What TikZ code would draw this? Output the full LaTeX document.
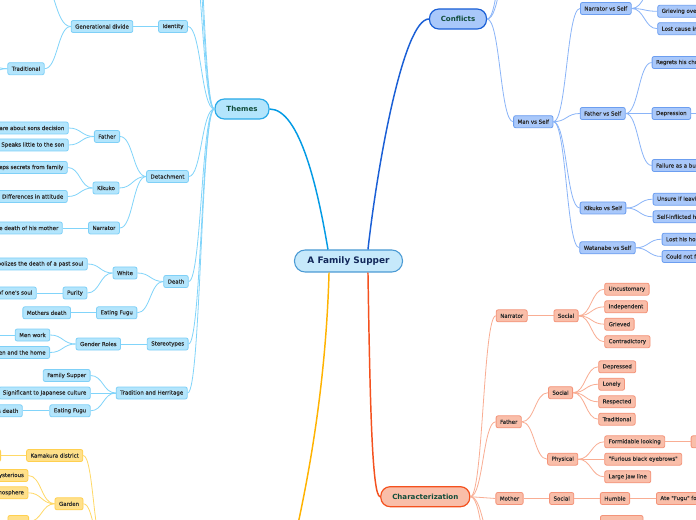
\documentclass[tikz,border=0pt]{standalone}
\usepackage{fontspec}
\setmainfont{DejaVu Sans}
\newfontfamily\nodefont{DejaVu Sans}[FakeBold=0.6]
\usetikzlibrary{calc}
\definecolor{thfill}{HTML}{B3E5FC}
\definecolor{thborder}{HTML}{7FD0F7}
\definecolor{thedge}{HTML}{81D4FA}
\definecolor{thmain}{HTML}{039BE5}
\definecolor{thmainb}{HTML}{2AAAE8}
\definecolor{cofill}{HTML}{A9C8FA}
\definecolor{coborder}{HTML}{6C9EF0}
\definecolor{coedge}{HTML}{8AB4F8}
\definecolor{comain}{HTML}{1A5FD6}
\definecolor{chfill}{HTML}{F9BEA9}
\definecolor{chborder}{HTML}{F4947A}
\definecolor{chedge}{HTML}{F9AD93}
\definecolor{chmain}{HTML}{F4511E}
\definecolor{yefill}{HTML}{FFE08A}
\definecolor{yeborder}{HTML}{FFD04F}
\definecolor{yeedge}{HTML}{FFD966}
\definecolor{yemain}{HTML}{FFB300}
\definecolor{rootfill}{HTML}{C6E9FB}
\definecolor{rootborder}{HTML}{4A9AD4}
\definecolor{txt}{HTML}{2E2E2E}
\definecolor{maintxt}{HTML}{114D3A}
\definecolor{roottxt}{HTML}{12285A}
\tikzset{
  mm/.style={to path={.. controls ($(\tikztostart)!0.5!(\tikztotarget|-\tikztostart)$) and ($(\tikztotarget)!0.5!(\tikztostart|-\tikztotarget)$) .. (\tikztotarget) \tikztonodes}},
  box/.style={rounded corners=1.5pt, minimum height=9pt, inner xsep=3pt, inner ysep=0pt,
    font=\nodefont\fontsize{4.1}{4.5}\selectfont, text=txt, line width=0.6pt},
  th/.style={box, fill=thfill, draw=thborder},
  co/.style={box, fill=cofill, draw=coborder},
  ch/.style={box, fill=chfill, draw=chborder},
  ye/.style={box, fill=yefill, draw=yeborder},
  branch/.style={rounded corners=7pt, minimum height=15pt, inner sep=0pt,
    font=\bfseries\fontsize{5.3}{6}\selectfont, text=maintxt, line width=0.9pt},
  the/.style={draw=thedge, line width=0.6pt, mm},
  coe/.style={draw=coedge, line width=0.6pt, mm},
  che/.style={draw=chedge, line width=0.6pt, mm},
  yee/.style={draw=yeedge, line width=0.6pt, mm},
}
\begin{document}
\begin{tikzpicture}[x=0.75pt,y=-0.75pt]
\clip (0,0) rectangle (696,520);
\fill[white] (0,0) rectangle (696,520);
% root
\node[rounded corners=8pt, minimum width=81pt, minimum height=16.5pt, inner sep=0pt,
  fill=rootfill, draw=rootborder, line width=0.8pt, text=roottxt,
  font=\bfseries\fontsize{6.7}{8}\selectfont] (root) at (348.5,261) {A Family Supper};
% main branches
\node[branch, fill=thfill, draw=thmainb, minimum width=40.5pt] (themes) at (242,109) {Themes};
\node[branch, fill=cofill, draw=comain, minimum width=42.75pt] (conflicts) at (458,19) {Conflicts};
\node[branch, fill=chfill, draw=chmain, minimum width=66.75pt] (charac) at (425.3,496.7) {Characterization};
\coordinate (setting) at (285,580);
\draw[thmain, line width=1.1pt] ([xshift=-15.4pt]root.north) .. controls (318,190) and (300,109) .. (themes.east);
\draw[comain, line width=1.1pt] ([xshift=14.6pt]root.north) .. controls (378,160) and (404,19) .. (conflicts.west);
\draw[chmain, line width=1.1pt] ([xshift=14.6pt]root.south) .. controls (370,400) and (372,497) .. (charac.west);
\draw[yemain, line width=1.1pt] ([xshift=-14.6pt]root.south) .. controls (326,380) and (310,480) .. (setting);

% ---------------- Themes ----------------
\node[th] (identity) at (173,26.5) {Identity};
\node[th] (gendiv) at (102,26.5) {Generational divide};
\node[th] (traditional) at (26,68.7) {Traditional};
\coordinate (gdup) at (38,-25);
\coordinate (trad1) at (-25,60);
\coordinate (trad2) at (-25,80);
\coordinate (thup1) at (190,-60);
\coordinate (thup2) at (190,-110);
\coordinate (thup3) at (190,-160);
\node[th] (detach) at (167.5,176.5) {Detachment};
\node[th] (dfather) at (107,136.5) {Father};
\node[th, anchor=east] (dcare) at (68.7,128) {Doesn't care about sons decision};
\node[th, anchor=east] (dspeaks) at (68.7,145) {Speaks little to the son};
\node[th] (dkikuko) at (106,188) {Kikuko};
\node[th, anchor=east] (dsecrets) at (67.7,167.5) {Keeps secrets from family};
\node[th, anchor=east] (ddiff) at (67.7,196.5) {Differences in attitude};
\node[th] (dnarr) at (104,228) {Narrator};
\node[th, anchor=east] (dmother) at (62.7,228) {the death of his mother};
\node[th] (death) at (176,281.5) {Death};
\node[th] (white) at (125,273) {White};
\node[th, anchor=east] (wsymb) at (87.7,264) {Symbolizes the death of a past soul};
\node[th] (purity) at (75,293) {Purity};
\node[th, anchor=east] (psoul) at (36.7,293) {Purity of one's soul};
\node[th] (eatfugu1) at (116.7,312.8) {Eating Fugu};
\node[th] (mothdeath1) at (46.7,312.8) {Mothers death};
\node[th] (stereo) at (167.7,344) {Stereotypes};
\node[th] (gender) at (98.3,344) {Gender Roles};
\node[th] (menwork) at (32.5,335) {Men work};
\node[th, anchor=east] (women) at (50,352.5) {Women and the home};
\coordinate (mw1) at (-25,335);
\node[th] (tradher) at (151.7,393) {Tradition and Herritage};
\node[th] (famsup) at (66.7,375.5) {Family Supper};
\node[th, anchor=east] (signif) at (90.7,393) {Significant to Japanese culture};
\node[th] (eatfugu2) at (70,410.8) {Eating Fugu};
\node[th, anchor=east] (mothdeath2) at (22.7,410.8) {Mothers death};

\draw[the] (themes.west) to (identity.east);
\draw[the] (themes.west) to (thup1);
\draw[the] (themes.west) to (thup2);
\draw[the] (themes.west) to (thup3);
\draw[the] (themes.west) to (detach.east);
\draw[the] (themes.west) to (death.east);
\draw[the] (themes.west) to (stereo.east);
\draw[the] (themes.west) to (tradher.east);
\draw[the] (identity.west) to (gendiv.east);
\draw[the] (gendiv.west) to (gdup);
\draw[the] (gendiv.west) to (traditional.east);
\draw[the] (traditional.west) to (trad1);
\draw[the] (traditional.west) to (trad2);
\draw[the] (detach.west) to (dfather.east);
\draw[the] (detach.west) to (dkikuko.east);
\draw[the] (detach.west) to (dnarr.east);
\draw[the] (dfather.west) to (dcare.east);
\draw[the] (dfather.west) to (dspeaks.east);
\draw[the] (dkikuko.west) to (dsecrets.east);
\draw[the] (dkikuko.west) to (ddiff.east);
\draw[the] (dnarr.west) to (dmother.east);
\draw[the] (death.west) to (white.east);
\draw[the] (death.west) to (eatfugu1.east);
\draw[the] (white.west) to (wsymb.east);
\draw[the] (white.west) to (purity.east);
\draw[the] (purity.west) to (psoul.east);
\draw[the] (eatfugu1.west) to (mothdeath1.east);
\draw[the] (stereo.west) to (gender.east);
\draw[the] (gender.west) to (menwork.east);
\draw[the] (gender.west) to (women.east);
\draw[the] (menwork.west) to (mw1);
\draw[the] (tradher.west) to (famsup.east);
\draw[the] (tradher.west) to (signif.east);
\draw[the] (tradher.west) to (eatfugu2.east);
\draw[the] (eatfugu2.west) to (mothdeath2.east);

% ---------------- Conflicts ----------------
\coordinate (co1) at (512,-40);
\coordinate (co2) at (512,-80);
\node[co] (manself) at (533.3,121.7) {Man vs Self};
\node[co] (narrself) at (605.8,8.5) {Narrator vs Self};
\node[co, anchor=west] (grieving) at (657.3,11.3) {Grieving over his mother};
\node[co, anchor=west] (lostcause) at (657.3,28.7) {Lost cause in life};
\coordinate (nsup) at (657,-14);
\node[co] (fatherself) at (602.7,113.5) {Father vs Self};
\node[co, anchor=west] (regrets) at (651.7,62.5) {Regrets his choices};
\node[co, anchor=west] (depression) at (651.7,113.5) {Depression};
\coordinate (depchild) at (715,113.5);
\node[co, anchor=west] (failure) at (651.7,165.5) {Failure as a businessman};
\node[co] (kikself) at (603,208) {Kikuko vs Self};
\node[co, anchor=west] (unsure) at (652.7,199.2) {Unsure if leaving was right};
\node[co, anchor=west] (selfinf) at (652.7,216.8) {Self-inflicted harm};
\node[co] (watself) at (607.5,247.8) {Watanabe vs Self};
\node[co, anchor=west] (losthome) at (661.7,239.2) {Lost his home};
\node[co, anchor=west] (couldnot) at (661.7,256.5) {Could not face shame};

\draw[coe] (conflicts.east) to (co1);
\draw[coe] (conflicts.east) to (co2);
\draw[coe] (conflicts.east) to (manself.west);
\draw[coe] (manself.east) to (narrself.west);
\draw[coe] (manself.east) to (fatherself.west);
\draw[coe] (manself.east) to (kikself.west);
\draw[coe] (manself.east) to (watself.west);
\draw[coe] (narrself.east) to (nsup);
\draw[coe] (narrself.east) to (grieving.west);
\draw[coe] (narrself.east) to (lostcause.west);
\draw[coe] (fatherself.east) to (regrets.west);
\draw[coe] (fatherself.east) to (depression.west);
\draw[coe] (fatherself.east) to (failure.west);
\draw[coe] (depression.east) to (depchild);
\draw[coe] (kikself.east) to (unsure.west);
\draw[coe] (kikself.east) to (selfinf.west);
\draw[coe] (watself.east) to (losthome.west);
\draw[coe] (watself.east) to (couldnot.west);

% ---------------- Characterization ----------------
\node[ch] (cnarr) at (511.7,315.8) {Narrator};
\node[ch] (cnsocial) at (566,315.8) {Social};
\node[ch, anchor=west] (uncust) at (604.3,289.2) {Uncustomary};
\node[ch, anchor=west] (indep) at (604.3,306.8) {Independent};
\node[ch, anchor=west] (grieved) at (604.3,324.2) {Grieved};
\node[ch, anchor=west] (contra) at (604.3,341.7) {Contradictory};
\node[ch] (cfather) at (508.7,421.8) {Father};
\node[ch] (cfsocial) at (560.5,392.7) {Social};
\node[ch, anchor=west] (depressed) at (598.3,366.8) {Depressed};
\node[ch, anchor=west] (lonely) at (598.3,384.2) {Lonely};
\node[ch, anchor=west] (respected) at (598.3,401.8) {Respected};
\node[ch, anchor=west] (ctrad) at (598.3,419.2) {Traditional};
\node[ch] (physical) at (562.7,459.2) {Physical};
\node[ch, anchor=west] (formid) at (604.3,441.8) {Formidable looking};
\node[ch, anchor=west, minimum width=30pt] (formchild) at (690.7,441.8) {};
\node[ch, anchor=west] (furious) at (604.3,459.2) {"Furious black eyebrows"};
\node[ch, anchor=west] (largejaw) at (604.3,476.8) {Large jaw line};
\node[ch] (cmother) at (509.5,498.5) {Mother};
\node[ch] (cmsocial) at (561.7,498.5) {Social};
\node[ch] (humble) at (615,498.5) {Humble};
\node[ch, anchor=west] (atefugu) at (656,498.5) {Ate "Fugu" for her son};
\node[ch, anchor=west, minimum width=32pt] (cbottom) at (600,521.5) {};
\coordinate (chd1) at (496,545);
\coordinate (chd2) at (496,580);

\draw[che] (charac.east) to (cnarr.west);
\draw[che] (charac.east) to (cfather.west);
\draw[che] (charac.east) to (cmother.west);
\draw[che] (charac.east) to (chd1);
\draw[che] (charac.east) to (chd2);
\draw[che] (cnarr.east) to (cnsocial.west);
\draw[che] (cnsocial.east) to (uncust.west);
\draw[che] (cnsocial.east) to (indep.west);
\draw[che] (cnsocial.east) to (grieved.west);
\draw[che] (cnsocial.east) to (contra.west);
\draw[che] (cfather.east) to (cfsocial.west);
\draw[che] (cfather.east) to (physical.west);
\draw[che] (cfsocial.east) to (depressed.west);
\draw[che] (cfsocial.east) to (lonely.west);
\draw[che] (cfsocial.east) to (respected.west);
\draw[che] (cfsocial.east) to (ctrad.west);
\draw[che] (physical.east) to (formid.west);
\draw[che] (physical.east) to (furious.west);
\draw[che] (physical.east) to (largejaw.west);
\draw[che] (formid.east) to (formchild.west);
\draw[che] (cmother.east) to (cmsocial.west);
\draw[che] (cmsocial.east) to (humble.west);
\draw[che] (humble.east) to (atefugu.west);

% ---------------- Setting (yellow) ----------------
\coordinate (setw) at (104,548);
\node[ye] (kamakura) at (54.7,455.5) {Kamakura district};
\node[ye, anchor=east, minimum width=30pt] (kamleft) at (1,455.5) {};
\node[ye] (garden) at (69,503.8) {Garden};
\node[ye, anchor=east] (myst) at (28.3,475.5) {Mysterious};
\node[ye, anchor=east] (atmos) at (28.3,492.8) {Atmosphere};
\node[ye, anchor=east, minimum width=15.5pt] (gchild) at (29,521.5) {};
\draw[yee] (setw) to (kamakura.east);
\draw[yee] (setw) to (garden.east);
\draw[yee] (kamakura.west) to (kamleft.east);
\draw[yee] (garden.west) to (myst.east);
\draw[yee] (garden.west) to (atmos.east);
\draw[yee] (garden.west) to (gchild.east);
\end{tikzpicture}
\end{document}
